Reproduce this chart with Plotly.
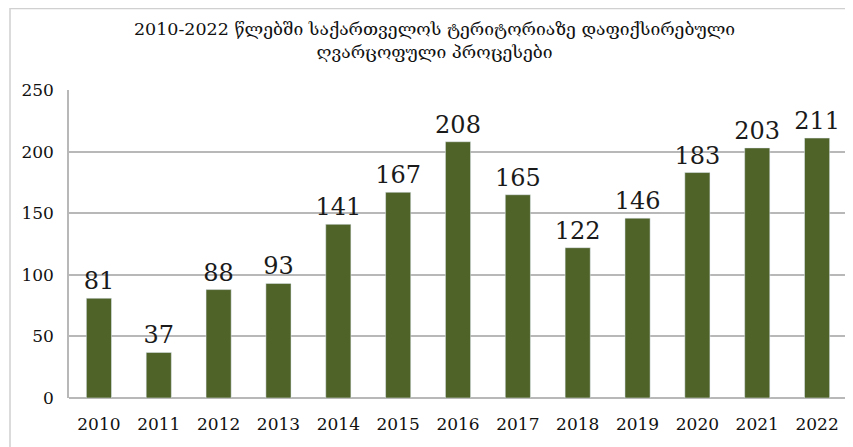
import plotly.graph_objects as go

years = ["2010", "2011", "2012", "2013", "2014", "2015", "2016", "2017", "2018", "2019", "2020", "2021", "2022"]
values = [81, 37, 88, 93, 141, 167, 208, 165, 122, 146, 183, 203, 211]
title_text = "2010-2022 წლებში საქართველოს ტერიტორიაზე დაფიქსირებული<br>ღვარცოფული პროცესები"

serif = "DejaVu Serif, serif"

W, H = 853, 447
L, R, T, B = 61, 14, 82, 57
pw, ph = W - L - R, H - T - B

fig = go.Figure(go.Bar(
    x=years, y=values,
    marker=dict(color="#4f6228"),
    width=0.42,
    text=[str(v) for v in values],
    textposition="outside",
    constraintext="none",
    textfont=dict(family=serif, size=24, color="#1a1a1a"),
    cliponaxis=False,
))

fig.update_layout(
    width=W, height=H,
    paper_bgcolor="white", plot_bgcolor="white",
    margin=dict(l=L, r=R, t=T, b=B, autoexpand=False),
    showlegend=False,
    title=dict(text=title_text, x=0.5, xanchor="center", y=0.94, yanchor="top",
               font=dict(family=serif, size=17.5, color="#111111")),
    xaxis=dict(tickfont=dict(family=serif, size=17, color="#111111"),
               showline=False, ticks="", showgrid=False, ticklabelstandoff=14),
    yaxis=dict(range=[0, 250], dtick=50, tickfont=dict(family=serif, size=17, color="#111111"),
               showgrid=True, gridcolor="#b8b8b8", gridwidth=1.5,
               showline=True, linecolor="#b8b8b8", linewidth=1.5,
               zeroline=True, zerolinecolor="#b8b8b8", zerolinewidth=1.5,
               ticks="", ticklabelstandoff=10),
    shapes=[dict(type="rect", xref="paper", yref="paper", x0=(2 - L) / pw, x1=1 + (R + 5) / pw,
                 y0=-(B + 5) / ph, y1=1 + (T - 0.5) / ph, line=dict(color="#d0d0d0", width=1.5))]
)

fig.write_html("out.html")
